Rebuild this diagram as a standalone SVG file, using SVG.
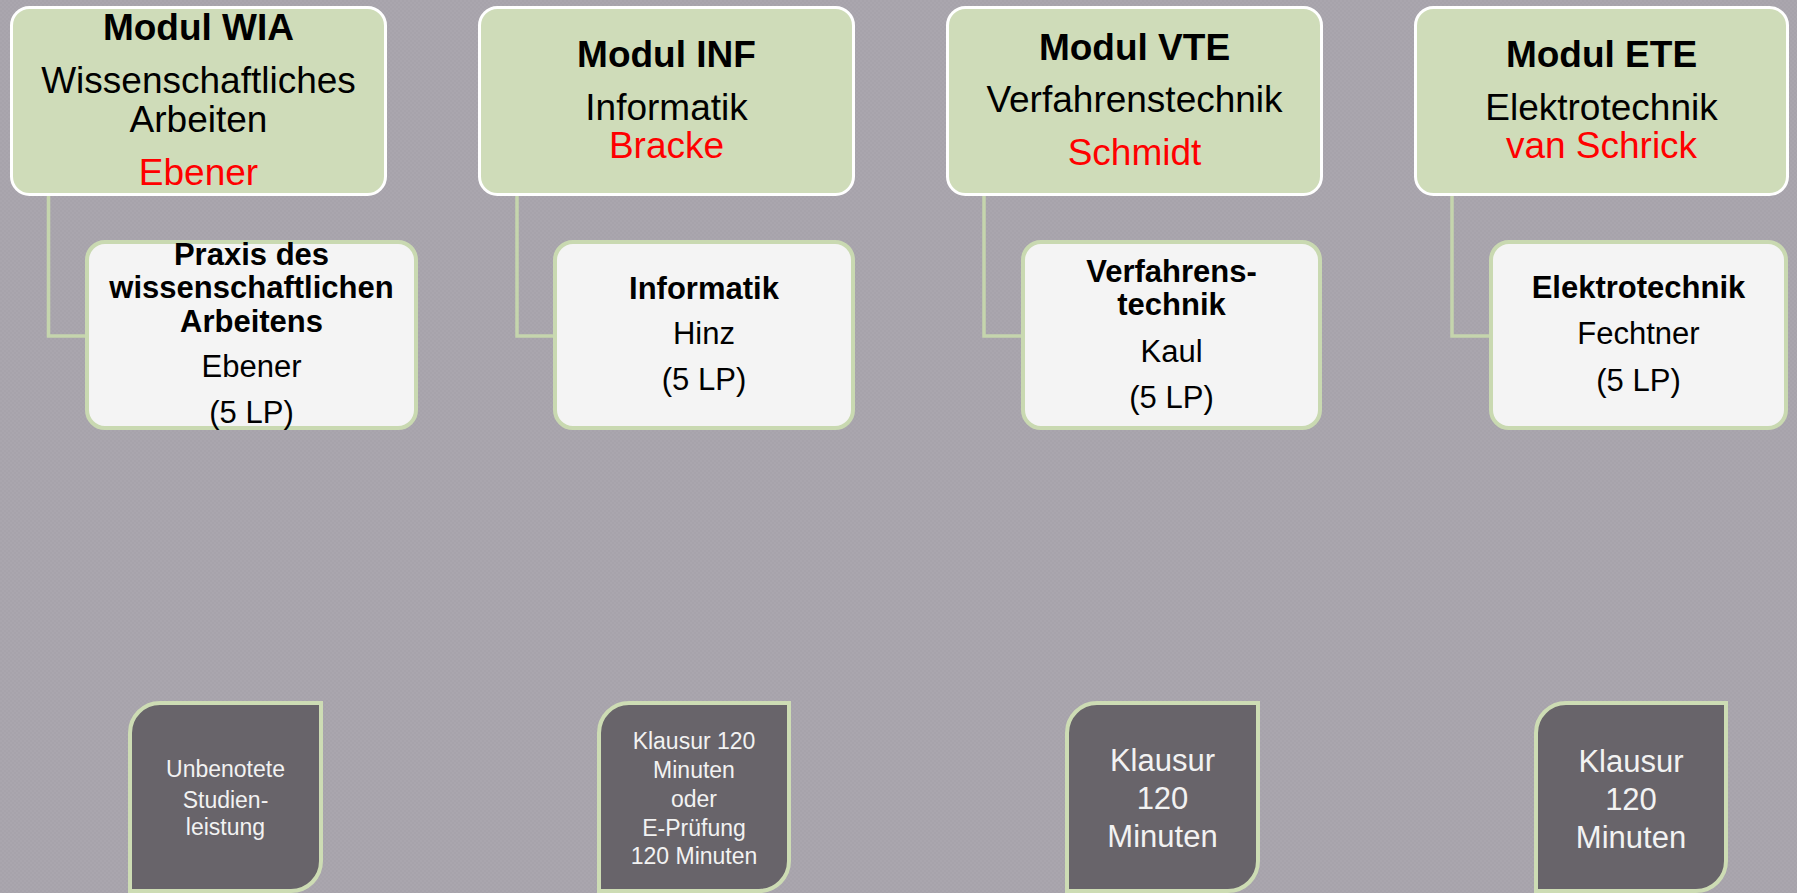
<svg xmlns="http://www.w3.org/2000/svg" width="1797" height="893" viewBox="0 0 1797 893">
  <defs>
    <pattern id="bg" width="4" height="4" patternUnits="userSpaceOnUse">
      <rect width="4" height="4" fill="#a7a3ab"/>
      <rect width="2" height="2" fill="#aaa6ae"/>
      <rect x="2" y="2" width="2" height="2" fill="#aaa6ae"/>
    </pattern>
    <style>
      .top { fill: #cfdcb9; stroke: #ffffff; stroke-width: 3; }
      .child { fill: #f4f4f4; stroke: #c9d9b1; stroke-width: 4; }
      .exam { fill: #68646a; stroke: #cddcb4; stroke-width: 4; }
      .conn { fill: none; stroke: #c5d5ad; stroke-width: 3.5; }
      text { font-family: "Liberation Sans", Arial, sans-serif; text-anchor: middle; }
      .h { font-size: 37px; font-weight: bold; fill: #000; }
      .t { font-size: 37px; fill: #000; }
      .r { font-size: 37px; fill: #ff0000; }
      .cb { font-size: 31px; font-weight: bold; fill: #000; }
      .cr { font-size: 31px; fill: #000; }
      .es { font-size: 23px; fill: #f2f2f2; }
      .el { font-size: 31px; fill: #f2f2f2; }
    </style>
  </defs>
  <rect width="1797" height="893" fill="url(#bg)"/>

  <g id="connectors">
    <path class="conn" d="M48.5,196 V336 H87"/>
    <path class="conn" d="M517,196 V336 H555"/>
    <path class="conn" d="M984,196 V336 H1023"/>
    <path class="conn" d="M1452,196 V336 H1491"/>
  </g>

  <g id="modul-wia">
    <rect class="top" x="11.5" y="7.5" width="374" height="187" rx="18"/>
    <text class="h" x="198.5" y="40">Modul WIA</text>
    <text class="t" x="198.5" y="92.5">Wissenschaftliches</text>
    <text class="t" x="198.5" y="131.5">Arbeiten</text>
    <text class="r" x="198.5" y="185">Ebener</text>
  </g>
  <g id="praxis">
    <rect class="child" x="87" y="242" width="329" height="186" rx="18"/>
    <text class="cb" x="251.5" y="265">Praxis des</text>
    <text class="cb" x="251.5" y="297.5">wissenschaftlichen</text>
    <text class="cb" x="251.5" y="331.5">Arbeitens</text>
    <text class="cr" x="251.5" y="377">Ebener</text>
    <text class="cr" x="251.5" y="422.5">(5 LP)</text>
  </g>
  <g id="exam-wia">
    <path class="exam" d="M130,733 A30,30 0 0 1 160,703 H321 V861 A30,30 0 0 1 291,891 H130 Z"/>
    <text class="es" x="225.5" y="777">Unbenotete</text>
    <text class="es" x="225.5" y="807.5">Studien-</text>
    <text class="es" x="225.5" y="835">leistung</text>
  </g>

  <g id="modul-inf">
    <rect class="top" x="479.5" y="7.5" width="374" height="187" rx="18"/>
    <text class="h" x="666.5" y="67">Modul INF</text>
    <text class="t" x="666.5" y="119.5">Informatik</text>
    <text class="r" x="666.5" y="157.5">Bracke</text>
  </g>
  <g id="informatik">
    <rect class="child" x="555" y="242" width="298" height="186" rx="18"/>
    <text class="cb" x="704" y="298.5">Informatik</text>
    <text class="cr" x="704" y="344">Hinz</text>
    <text class="cr" x="704" y="390">(5 LP)</text>
  </g>
  <g id="exam-inf">
    <path class="exam" d="M599,733 A30,30 0 0 1 629,703 H789 V861 A30,30 0 0 1 759,891 H599 Z"/>
    <text class="es" x="694" y="749">Klausur 120</text>
    <text class="es" x="694" y="777.5">Minuten</text>
    <text class="es" x="694" y="806.5">oder</text>
    <text class="es" x="694" y="835.5">E-Prüfung</text>
    <text class="es" x="694" y="863.5">120 Minuten</text>
  </g>

  <g id="modul-vte">
    <rect class="top" x="947.5" y="7.5" width="374" height="187" rx="18"/>
    <text class="h" x="1134.5" y="59.5">Modul VTE</text>
    <text class="t" x="1134.5" y="111.5">Verfahrenstechnik</text>
    <text class="r" x="1134.5" y="165">Schmidt</text>
  </g>
  <g id="verfahrenstechnik">
    <rect class="child" x="1023" y="242" width="297" height="186" rx="18"/>
    <text class="cb" x="1171.5" y="281.5">Verfahrens-</text>
    <text class="cb" x="1171.5" y="315">technik</text>
    <text class="cr" x="1171.5" y="361.5">Kaul</text>
    <text class="cr" x="1171.5" y="407.5">(5 LP)</text>
  </g>
  <g id="exam-vte">
    <path class="exam" d="M1067,733 A30,30 0 0 1 1097,703 H1258 V861 A30,30 0 0 1 1228,891 H1067 Z"/>
    <text class="el" x="1162.5" y="770.5">Klausur</text>
    <text class="el" x="1162.5" y="809">120</text>
    <text class="el" x="1162.5" y="846.5">Minuten</text>
  </g>

  <g id="modul-ete">
    <rect class="top" x="1415.5" y="7.5" width="372" height="187" rx="18"/>
    <text class="h" x="1601.5" y="67">Modul ETE</text>
    <text class="t" x="1601.5" y="119.5">Elektrotechnik</text>
    <text class="r" x="1601.5" y="157.5">van Schrick</text>
  </g>
  <g id="elektrotechnik">
    <rect class="child" x="1491" y="242" width="295" height="186" rx="18"/>
    <text class="cb" x="1638.5" y="298">Elektrotechnik</text>
    <text class="cr" x="1638.5" y="344">Fechtner</text>
    <text class="cr" x="1638.5" y="391">(5 LP)</text>
  </g>
  <g id="exam-ete">
    <path class="exam" d="M1536,733 A30,30 0 0 1 1566,703 H1726 V861 A30,30 0 0 1 1696,891 H1536 Z"/>
    <text class="el" x="1631" y="771.5">Klausur</text>
    <text class="el" x="1631" y="810">120</text>
    <text class="el" x="1631" y="848">Minuten</text>
  </g>
</svg>
